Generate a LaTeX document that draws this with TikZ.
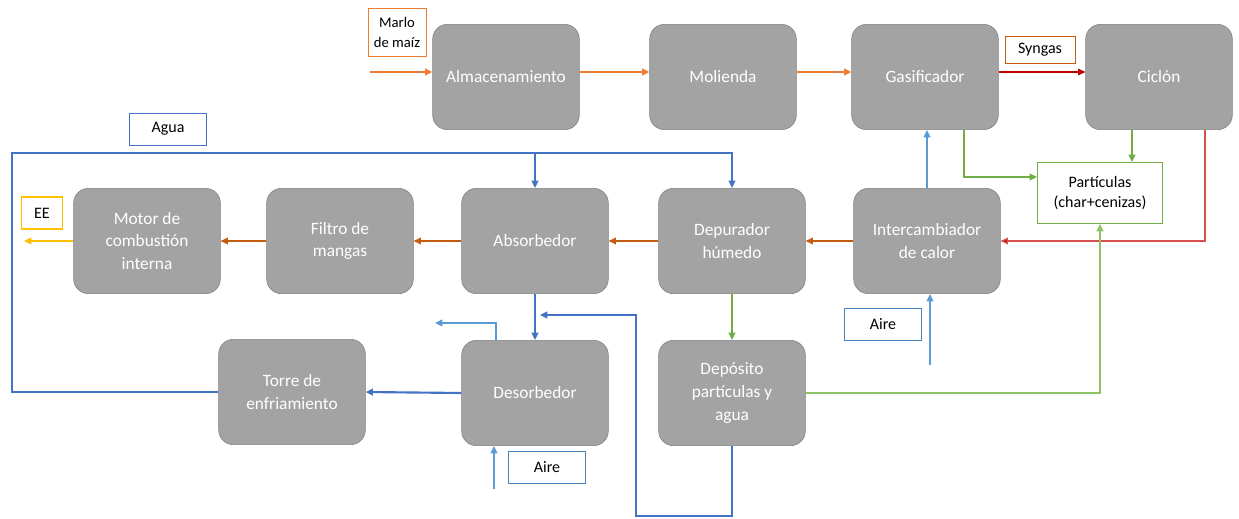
\documentclass[tikz,border=0pt]{standalone}
\usepackage{fontspec}
\setmainfont{Carlito}
\usetikzlibrary{arrows.meta}

\definecolor{boxgray}{RGB}{163,163,163}
\definecolor{boxedge}{RGB}{128,128,128}
\definecolor{orng}{RGB}{237,125,49}
\definecolor{brwn}{RGB}{197,90,17}
\definecolor{synred}{RGB}{192,0,0}
\definecolor{lred}{RGB}{214,80,80}
\definecolor{dgreen}{RGB}{112,173,71}
\definecolor{lgreen}{RGB}{140,195,100}
\definecolor{dblue}{RGB}{68,114,196}
\definecolor{lblue}{RGB}{91,155,213}
\definecolor{airblue}{RGB}{70,130,190}
\definecolor{gold}{RGB}{255,192,0}

\tikzset{
    proc/.style={draw=boxedge, fill=boxgray, rounded corners=11pt, minimum width=110pt,
        minimum height=79pt, align=center, text=white, font=\fontsize{13}{17}\selectfont},
    tag/.style={draw, fill=white, inner sep=1pt, align=center, font=\fontsize{12}{15}\selectfont},
    flow/.style={-{Triangle[length=5.5pt,width=5pt]}, line width=1pt}
}

\begin{document}
\begin{tikzpicture}[x=0.75pt, y=-0.75pt]
        \useasboundingbox (0, 0) rectangle (1239, 518);

        \node[proc] (alm) at (506, 77) {Almacenamiento};
        \node[proc] (mol) at (723, 77) {Molienda};
        \node[proc] (gas) at (925, 77) {Gasificador};
        \node[proc] (cic) at (1159, 77) {Ciclón};
        \node[proc] (motor) at (147, 241) {Motor de\\combustión\\interna};
        \node[proc] (filtro) at (340, 241) {Filtro de\\mangas};
        \node[proc] (absorb) at (535, 241) {Absorbedor};
        \node[proc] (depur) at (732, 241) {Depurador\\húmedo};
        \node[proc] (interc) at (927, 241) {Intercambiador\\de calor};
        \node[proc] (torre) at (292, 392) {Torre de\\enfriamiento};
        \node[proc] (desorb) at (535, 393) {Desorbedor};
        \node[proc] (depos) at (732, 393) {Depósito\\partículas y\\agua};

        \node[tag, draw=orng, minimum width=43.5pt, minimum height=36pt,
            font=\fontsize{11}{15}\selectfont] (marlo) at (397, 32) {Marlo\\de maíz};
        \node[tag, draw=brwn, minimum width=52.5pt, minimum height=20pt] (syngas) at (1040, 50) {Syngas};
        \node[tag, draw=dblue, minimum width=58pt, minimum height=24pt] (agua) at (168, 129) {Agua};
        \node[tag, draw=gold, line width=1.2pt, minimum width=31pt, minimum height=24pt] (ee) at (42, 213) {EE};
        \node[tag, draw=dgreen, minimum width=94pt, minimum height=46pt] (part) at (1100, 193) {Partículas\\(char+cenizas)};
        \node[tag, draw=airblue, minimum width=58pt, minimum height=24pt] (aire1) at (883, 324) {Aire};
        \node[tag, draw=airblue, minimum width=58pt, minimum height=24pt] (aire2) at (547, 467) {Aire};

        \coordinate (marloin) at (370, 72);
        \coordinate (eeout) at (24, 241);
        \coordinate (aire1in) at (930, 365);
        \coordinate (aire2in) at (494, 489);
        \coordinate (ret) at (636, 516);
        \coordinate (mix) at (540, 315);
        \coordinate (vent) at (435, 323);
        \coordinate (loop) at (12, 153);

        % biomasa y gas de sintesis
        \draw[flow, orng, line width=1.5pt] (marloin) -- (marloin -| alm.west);
        \draw[flow, orng, line width=1.5pt] (alm.east |- marloin) -- (mol.west |- marloin);
        \draw[flow, orng, line width=1.5pt] (mol.east |- marloin) -- (gas.west |- marloin);
        \draw[flow, synred] (gas.east |- marloin) -- (cic.west |- marloin);
        \draw[flow, dgreen] ([xshift=29.25pt]gas.south) |- ([yshift=12pt]part.west);
        \draw[flow, dgreen] ([xshift=-20.25pt]cic.south) -- ([xshift=-20.25pt]cic.south |- part.north);
        \draw[lred, line width=1pt, -{Triangle[length=5.5pt,width=5pt,fill=synred]}] ([xshift=34.5pt]cic.south) |- (interc.east);
        \draw[flow, brwn] (interc.west) -- (depur.east);
        \draw[flow, brwn] (depur.west) -- (absorb.east);
        \draw[flow, brwn] (absorb.west) -- (filtro.east);
        \draw[flow, brwn] (filtro.west) -- (motor.east);
        \draw[flow, gold] (motor.west) -- (eeout);

        % aire
        \draw[flow, lblue, line width=1.5pt] (interc.north) -- (interc.north |- gas.south);
        \draw[flow, lblue, line width=1.5pt] (aire1in) -- (aire1in |- interc.south);
        \draw[flow, lblue] (aire2in) -- (aire2in |- desorb.south);
        \draw[flow, lblue, line width=1.5pt] ([xshift=-29.25pt]desorb.north) |- (vent);

        % particulas
        \draw[flow, dgreen, line width=1.5pt] (depur.south) -- (depos.north);
        \draw[flow, lgreen] (depos.east) -| (part.south);

        % agua
        \draw[flow, dblue, line width=1.6pt] (depos.south) |- (ret) |- (mix);
        \draw[flow, dblue] (absorb.south) -- (desorb.north);
        \draw[flow, dblue, line width=1.6pt] (desorb.west) -- (torre.east);
        \draw[flow, dblue, line width=1.3pt] (torre.west) -| (loop) -| (depur.north);
        \draw[flow, dblue] (absorb.north |- loop) -- (absorb.north);

\end{tikzpicture}
\end{document}
